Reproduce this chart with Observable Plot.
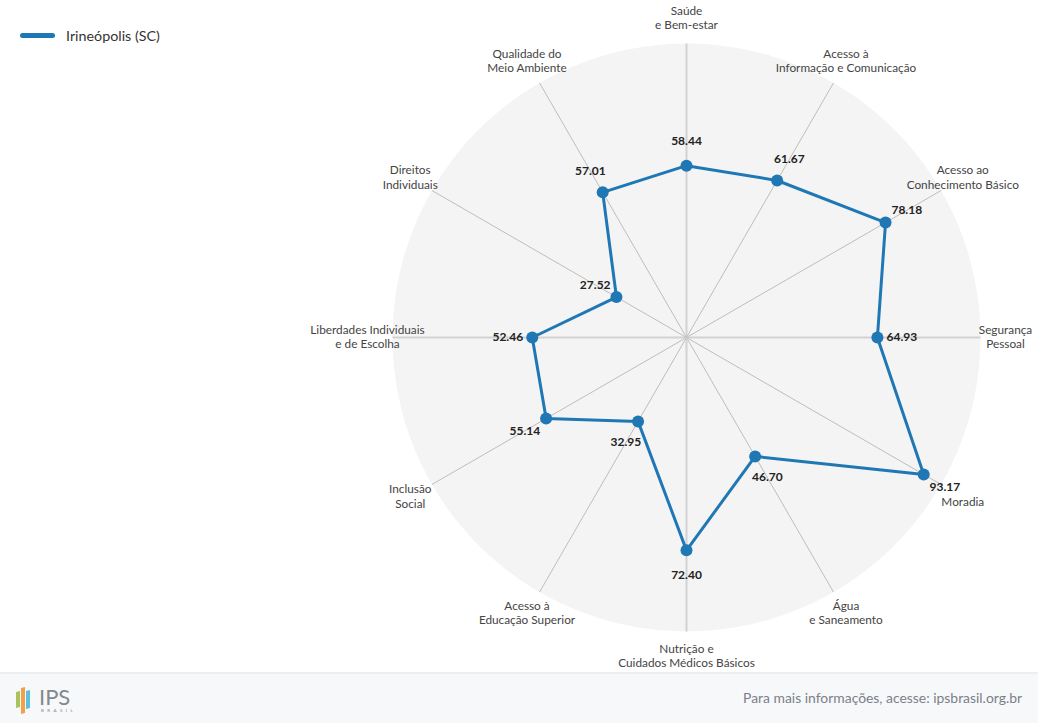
<!DOCTYPE html>
<html>
<head>
<meta charset="utf-8">
<script src="https://cdn.jsdelivr.net/npm/d3@7"></script>
<script src="https://cdn.jsdelivr.net/npm/@observablehq/plot@0.6"></script>
<style>
  html, body { margin: 0; padding: 0; background: #fff; font-family: Lato, "Open Sans", sans-serif; }
  #wrap { position: relative; width: 1038px; height: 723px; overflow: hidden; }
  #legend { position: absolute; left: 20px; top: 27px; display: flex; align-items: center; font-size: 14.3px; color: #333; }
  #legend .sw { width: 35px; height: 5px; border-radius: 3px; background: #1f77b4; margin-right: 11px; }
  #footer { position: absolute; left: 0; top: 672px; width: 1038px; height: 51px; background: #f7f8fa; border-top: 2px solid #eceef1; box-sizing: border-box; }
  #footer .txt { position: absolute; right: 16px; top: 15px; font-size: 13.9px; color: #7b8089; }
  #footer .logo { position: absolute; left: 15px; top: 11px; overflow: visible; }
</style>
</head>
<body>
<div id="wrap">
  <div id="chart"></div>
  <div id="legend"><div class="sw"></div><span>Irineópolis (SC)</span></div>
  <div id="footer">
    <svg class="logo" width="90" height="32" viewBox="0 0 90 32">
      <polygon points="1,7 5,6 5,22 1,23" fill="#a9c25b"/>
      <polygon points="6,3 10,2 10,28 6,29" fill="#f4a04b"/>
      <polygon points="11,6 15,5 15,23 11,24" fill="#5bc2dc"/>
      <text x="24" y="20" font-size="22" font-family="Lato, sans-serif" font-weight="400" fill="#85888c">IPS</text>
      <text x="26" y="27" font-size="4.5" letter-spacing="3.4" font-family="Lato, sans-serif" fill="#85888c">BRASIL</text>
    </svg>
    <div class="txt">Para mais informações, acesse: ipsbrasil.org.br</div>
  </div>
</div>
<script>
// ---- data ----
const seriesName = "Irineópolis (SC)";
const categories = [
  "Saúde\ne Bem-estar",
  "Acesso à\nInformação e Comunicação",
  "Acesso ao\nConhecimento Básico",
  "Segurança\nPessoal",
  "Moradia",
  "Água\ne Saneamento",
  "Nutrição e\nCuidados Médicos Básicos",
  "Acesso à\nEducação Superior",
  "Inclusão\nSocial",
  "Liberdades Individuais\ne de Escolha",
  "Direitos\nIndividuais",
  "Qualidade do\nMeio Ambiente"
];
const values = [58.44, 61.67, 78.18, 64.93, 93.17, 46.70, 72.40, 32.95, 55.14, 52.46, 27.52, 57.01];
const maxValue = 100;

// ---- layout ----
const W = 1038, H = 672, cx = 686, cy = 337, R = 294;
const k = maxValue / R; // data units per pixel
const n = categories.length;
const ang = i => (i * 2 * Math.PI) / n;
const px = (i, r) => r * Math.sin(ang(i));
const py = (i, r) => r * Math.cos(ang(i));

const rows = categories.map((c, i) => ({i, c, v: values[i]}));
const labelR = 319 * k;
const valueOffset = 24.5 * k;

const plot = Plot.plot({
  width: W,
  height: H,
  margin: 0,
  x: {type: "linear", domain: [-cx * k, (W - cx) * k], range: [0, W], axis: null},
  y: {type: "linear", domain: [-(H - cy) * k, cy * k], range: [H, 0], axis: null},
  r: {type: "linear", domain: [0, maxValue], range: [0, R]},
  style: {fontFamily: "Lato, 'Open Sans', sans-serif", background: "transparent"},
  marks: [
    Plot.dot([{v: maxValue}], {x: () => 0, y: () => 0, r: "v", fill: "#f4f4f4", stroke: "none"}),
    Plot.link(rows, {
      x1: () => 0, y1: () => 0,
      x2: d => px(d.i, maxValue), y2: d => py(d.i, maxValue),
      stroke: d => (d.i % 3 === 0 ? "#d2d2d2" : "#bdbdbd"),
      strokeWidth: d => (d.i % 3 === 0 ? 2 : 1)
    }),
    Plot.line(rows, {
      x: d => px(d.i, d.v), y: d => py(d.i, d.v),
      curve: "linear-closed", stroke: "#1f77b4", strokeWidth: 3, strokeLinejoin: "round"
    }),
    Plot.dot(rows, {x: d => px(d.i, d.v), y: d => py(d.i, d.v), r: 6, fill: "#1f77b4", stroke: "none"}),
    Plot.text(rows, {
      x: d => px(d.i, d.v + valueOffset), y: d => py(d.i, d.v + valueOffset),
      text: d => d.v.toFixed(2),
      fontSize: 12, fontWeight: "bold", fill: "#222", textAnchor: "middle", lineAnchor: "middle"
    }),
    Plot.text(rows.filter(d => d.c.includes("\n")), {
      x: d => px(d.i, labelR), y: d => py(d.i, labelR),
      text: "c", fontSize: 11.8, fill: "#444", textAnchor: "middle", lineAnchor: "middle", lineHeight: 1.19, dy: -1
    }),
    Plot.text(rows.filter(d => !d.c.includes("\n")), {
      x: d => px(d.i, labelR), y: d => py(d.i, labelR),
      text: "c", fontSize: 11.8, fill: "#444", textAnchor: "middle", lineAnchor: "middle", dy: 5
    })
  ]
});
document.getElementById("chart").appendChild(plot);
</script>
</body>
</html>
